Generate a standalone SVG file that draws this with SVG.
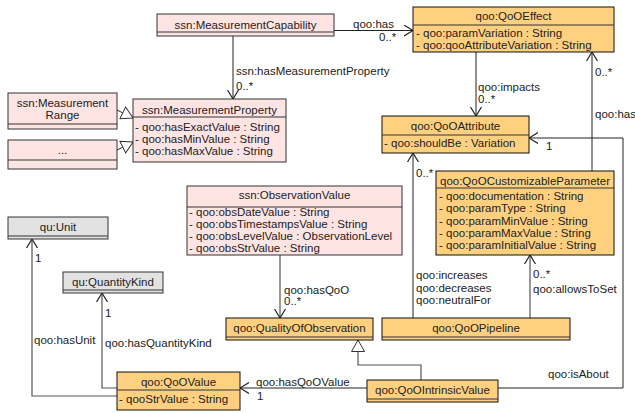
<svg xmlns="http://www.w3.org/2000/svg" width="635" height="413" viewBox="0 0 635 413">
<style>
text{font-family:"Liberation Sans",Arial,sans-serif;font-size:11.5px;fill:#222}
.t{text-anchor:middle}
.pk{fill:#ffe4e4;stroke:#333;stroke-width:1}
.or{fill:#ffd080;stroke:#111;stroke-width:1}
.gr{fill:#e2e2e2;stroke:#333;stroke-width:1}
.sep{stroke:#333;stroke-width:1;fill:none}
.c{fill:none;stroke:#222;stroke-width:1}
.g{fill:none;stroke:#555;stroke-width:1.2}
</style>
<defs>
<marker id="arr" viewBox="0 0 10 12" refX="9" refY="6" markerWidth="10" markerHeight="12" markerUnits="userSpaceOnUse" orient="auto">
<path d="M0,0.5 L9,6 L0,11.5" fill="none" stroke="#222" stroke-width="1.2"/>
</marker>
<marker id="tri" viewBox="0 0 13 14" refX="12" refY="7" markerWidth="13" markerHeight="14" markerUnits="userSpaceOnUse" orient="auto">
<path d="M0.5,0.5 L12,7 L0.5,13.5 Z" fill="#fff" stroke="#333" stroke-width="1"/>
</marker>
</defs>

<g id="connectors">
<line class="c" x1="334" y1="30.5" x2="413" y2="30.5" marker-end="url(#arr)"/>
<line class="c" x1="233" y1="36" x2="233" y2="99" marker-end="url(#arr)"/>
<line class="c" x1="476" y1="52" x2="476" y2="116" marker-end="url(#arr)"/>
<line class="c" x1="592" y1="171" x2="592" y2="52" marker-end="url(#arr)"/>
<line class="c" x1="413" y1="318" x2="413" y2="153" marker-end="url(#arr)"/>
<line class="g" x1="530" y1="318" x2="530" y2="255" marker-end="url(#arr)"/>
<line class="g" x1="280" y1="255" x2="280" y2="318" marker-end="url(#arr)"/>
<polyline class="c" points="498,388 623,388 623,138 529,138" marker-end="url(#arr)"/>
<line class="c" x1="367" y1="388" x2="240" y2="388" marker-end="url(#arr)"/>
<polyline class="g" points="117,388 102,388 102,293" marker-end="url(#arr)"/>
<polyline class="g" points="117,396 32,396 32,239" marker-end="url(#arr)"/>
<polyline class="g" points="421,380 421,365 358,365 358,340" marker-end="url(#tri)"/>
<line class="c" x1="117" y1="110" x2="133" y2="118" marker-end="url(#tri)"/>
<line class="c" x1="117" y1="150" x2="133" y2="142" marker-end="url(#tri)"/>
<text x="353" y="28">qoo:has</text>
<text x="379" y="41">0..*</text>
<text x="236" y="75">ssn:hasMeasurementProperty</text>
<text x="236" y="90">0..*</text>
<text x="478" y="91">qoo:impacts</text>
<text x="478" y="103">0..*</text>
<text x="595" y="76">0..*</text>
<text x="595" y="118">qoo:has</text>
<text x="546" y="150">1</text>
<text x="416" y="177">0..*</text>
<text x="416" y="279">qoo:increases</text>
<text x="416" y="292">qoo:decreases</text>
<text x="416" y="304">qoo:neutralFor</text>
<text x="533" y="278">0..*</text>
<text x="533" y="293">qoo:allowsToSet</text>
<text x="284" y="294">qoo:hasQoO</text>
<text x="284" y="305">0..*</text>
<text x="35" y="262">1</text>
<text x="105" y="317">1</text>
<text x="34" y="344">qoo:hasUnit</text>
<text x="105" y="347">qoo:hasQuantityKind</text>
<text x="256" y="386">qoo:hasQoOValue</text>
<text x="257" y="400">1</text>
<text x="548" y="378">qoo:isAbout</text>
</g>

<g id="MeasurementCapability">
<rect class="pk" x="157" y="14" width="177" height="22"/>
<line class="sep" x1="157" y1="32" x2="334" y2="32"/>
<text class="t" x="245.5" y="29">ssn:MeasurementCapability</text>
</g>

<g id="QoOEffect">
<rect class="or" x="413" y="7" width="201" height="45"/>
<line class="sep" x1="413" y1="25" x2="614" y2="25"/>
<text class="t" x="513.5" y="20">qoo:QoOEffect</text>
<text x="416" y="37">- qoo:paramVariation : String</text>
<text x="416" y="49">- qoo:qooAttributeVariation : String</text>
</g>

<g id="MeasurementProperty">
<rect class="pk" x="133" y="99" width="153" height="63"/>
<line class="sep" x1="133" y1="117" x2="286" y2="117"/>
<text class="t" x="209.5" y="114">ssn:MeasurementProperty</text>
<text x="135" y="131">- qoo:hasExactValue : String</text>
<text x="135" y="143">- qoo:hasMinValue : String</text>
<text x="135" y="155">- qoo:hasMaxValue : String</text>
</g>

<g id="MeasurementRange">
<rect class="pk" x="8" y="93" width="109" height="36"/>
<line class="sep" x1="8" y1="124" x2="117" y2="124"/>
<text class="t" x="62.5" y="107">ssn:Measurement</text>
<text class="t" x="62.5" y="119">Range</text>
</g>

<g id="Other">
<rect class="pk" x="8" y="140" width="109" height="29"/>
<line class="sep" x1="8" y1="160" x2="117" y2="160"/>
<text class="t" x="62.5" y="154">...</text>
</g>

<g id="QoOAttribute">
<rect class="or" x="382" y="116" width="147" height="37"/>
<line class="sep" x1="382" y1="135" x2="529" y2="135"/>
<text class="t" x="455.5" y="130">qoo:QoOAttribute</text>
<text x="384" y="147">- qoo:shouldBe : Variation</text>
</g>

<g id="QoOCustomizableParameter">
<rect class="or" x="436" y="171" width="178" height="84"/>
<line class="sep" x1="436" y1="188" x2="614" y2="188"/>
<text class="t" x="525" y="185">qoo:QoOCustomizableParameter</text>
<text x="439" y="200">- qoo:documentation : String</text>
<text x="439" y="212">- qoo:paramType : String</text>
<text x="439" y="225">- qoo:paramMinValue : String</text>
<text x="439" y="237">- qoo:paramMaxValue : String</text>
<text x="439" y="249">- qoo:paramInitialValue : String</text>
</g>

<g id="ObservationValue">
<rect class="pk" x="187" y="186" width="215" height="69"/>
<line class="sep" x1="187" y1="207" x2="402" y2="207"/>
<text class="t" x="294.5" y="199">ssn:ObservationValue</text>
<text x="189" y="216">- qoo:obsDateValue : String</text>
<text x="189" y="228">- qoo:obsTimestampsValue : String</text>
<text x="189" y="240">- qoo:obsLevelValue : ObservationLevel</text>
<text x="189" y="252">- qoo:obsStrValue : String</text>
</g>

<g id="Unit">
<rect class="gr" x="8" y="217" width="100" height="22"/>
<line class="sep" x1="8" y1="236" x2="108" y2="236"/>
<text class="t" x="58" y="231">qu:Unit</text>
</g>

<g id="QuantityKind">
<rect class="gr" x="63" y="272" width="100" height="21"/>
<line class="sep" x1="63" y1="290" x2="163" y2="290"/>
<text class="t" x="113" y="286">qu:QuantityKind</text>
</g>

<g id="QualityOfObservation">
<rect class="or" x="226" y="318" width="147" height="22"/>
<line class="sep" x1="226" y1="337" x2="373" y2="337"/>
<text class="t" x="299.5" y="332">qoo:QualityOfObservation</text>
</g>

<g id="QoOPipeline">
<rect class="or" x="382" y="318" width="188" height="22"/>
<line class="sep" x1="382" y1="337" x2="570" y2="337"/>
<text class="t" x="476" y="332">qoo:QoOPipeline</text>
</g>

<g id="QoOValue">
<rect class="or" x="117" y="372" width="123" height="38"/>
<line class="sep" x1="117" y1="390" x2="240" y2="390"/>
<text class="t" x="178.5" y="386">qoo:QoOValue</text>
<text x="119" y="403">- qooStrValue : String</text>
</g>

<g id="QoOIntrinsicValue">
<rect class="or" x="367" y="380" width="131" height="22"/>
<line class="sep" x1="367" y1="399" x2="498" y2="399"/>
<text class="t" x="432.5" y="394">qoo:QoOIntrinsicValue</text>
</g>
</svg>
